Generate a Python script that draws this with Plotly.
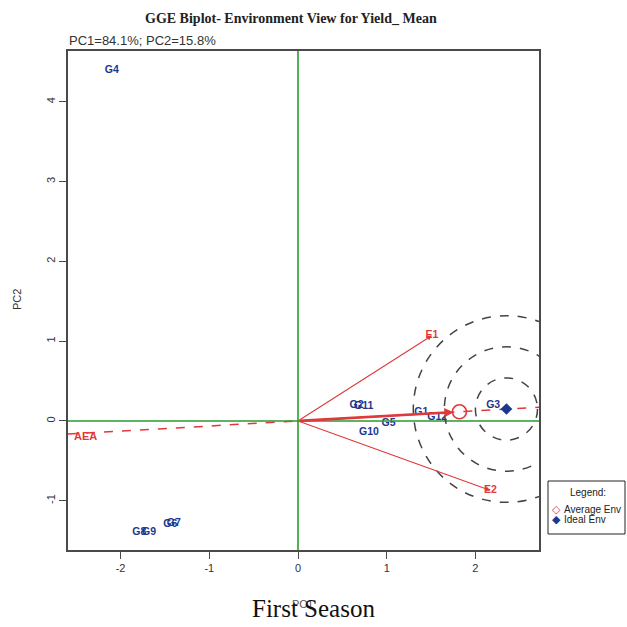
import plotly.graph_objects as go

# ---- data ----
genotypes = ["G1", "G2", "G3", "G4", "G5", "G6", "G7", "G8", "G9", "G10", "G11", "G12"]
geno_pc1 = [1.39, 0.66, 2.20, -2.10, 1.02, -1.44, -1.40, -1.79, -1.68, 0.80, 0.74, 1.57]
geno_pc2 = [0.11, 0.19, 0.20, 4.40, -0.03, -1.29, -1.28, -1.40, -1.40, -0.14, 0.18, 0.04]

environments = ["E1", "E2"]
env_pc1 = [1.51, 2.17]
env_pc2 = [1.07, -0.87]

avg_env = (1.82, 0.115)     # average environment
ideal_env = (2.35, 0.15)    # ideal environment
circle_rx = [0.35, 0.70, 1.05]   # concentric circle radii (PC1 units)
circle_ry = [0.39, 0.78, 1.17]   # (PC2 units)

x_range = [-2.593, 2.717]
y_range = [-1.617, 4.637]
x_ticks = [-2, -1, 0, 1, 2]
y_ticks = [-1, 0, 1, 2, 3, 4]

RED = "#e0393b"
NAVY = "#1c3790"
GREEN = "#2a9d2a"
FRAME = "#4a4a4a"

# helpers: pixel -> paper coordinates (plot area 68..539 x, 51..550 y)
def px(xp):
    return (xp - 68) / 471

def py(yp):
    return (550 - yp) / 499

fig = go.Figure()

# axis reference lines (green)
fig.add_shape(type="line", x0=0, x1=0, y0=y_range[0], y1=y_range[1], xref="x", yref="y",
              line=dict(color=GREEN, width=1.6))
fig.add_shape(type="line", x0=x_range[0], x1=x_range[1], y0=0, y1=0, xref="x", yref="y",
              line=dict(color=GREEN, width=1.6))

# concentric circles around ideal env
for rx, ry in zip(circle_rx, circle_ry):
    fig.add_shape(type="circle", xref="x", yref="y",
                  x0=ideal_env[0] - rx, x1=ideal_env[0] + rx,
                  y0=ideal_env[1] - ry, y1=ideal_env[1] + ry,
                  line=dict(color="#444444", width=1.5, dash="dash"))

# average environment axis (dashed through origin)
slope = avg_env[1] / avg_env[0]
fig.add_trace(go.Scatter(x=[x_range[0], x_range[1]],
                         y=[slope * x_range[0], slope * x_range[1]],
                         mode="lines", line=dict(color=RED, width=1.5, dash="dash"),
                         hoverinfo="skip", showlegend=False))

# environment vectors
for ex, ey in zip(env_pc1, env_pc2):
    fig.add_annotation(x=ex, y=ey, ax=0, ay=0, xref="x", yref="y", axref="x", ayref="y",
                       text="", showarrow=True, arrowhead=2, arrowsize=0.9,
                       arrowwidth=1.1, arrowcolor=RED)

# thick arrow to average environment
fig.add_annotation(x=avg_env[0], y=avg_env[1], ax=0, ay=0, xref="x", yref="y",
                   axref="x", ayref="y", text="", showarrow=True, arrowhead=2,
                   arrowsize=0.7, arrowwidth=2.6, arrowcolor=RED, standoff=6)

# environment labels
fig.add_trace(go.Scatter(x=env_pc1, y=env_pc2, mode="text",
                         text=["<b>%s</b>" % e for e in environments],
                         textfont=dict(family="Liberation Sans", size=10.5, color=RED),
                         hoverinfo="skip", showlegend=False))

# genotype labels
fig.add_trace(go.Scatter(x=geno_pc1, y=geno_pc2, mode="text",
                         text=["<b>%s</b>" % g for g in genotypes],
                         textfont=dict(family="Liberation Sans", size=10.5, color=NAVY),
                         hoverinfo="skip", showlegend=False))

# average env marker and ideal env marker
fig.add_trace(go.Scatter(x=[avg_env[0]], y=[avg_env[1]], mode="markers",
                         marker=dict(symbol="circle-open", size=14, color=RED,
                                     line=dict(width=1.6, color=RED)),
                         hoverinfo="skip", showlegend=False))
fig.add_trace(go.Scatter(x=[ideal_env[0]], y=[ideal_env[1]], mode="markers",
                         marker=dict(symbol="diamond", size=9, color=NAVY),
                         hoverinfo="skip", showlegend=False))

# AEA label
fig.add_annotation(x=-2.40, y=-0.19, xref="x", yref="y", text="<b>AEA</b>", showarrow=False,
                   font=dict(family="Liberation Sans", size=11, color=RED))

# ---- text around the plot ----
def note(x, y, text, font, **kw):
    fig.add_annotation(x=x, y=y, xref="paper", yref="paper", showarrow=False,
                       text=text, font=font, xanchor=kw.pop("xanchor", "center"),
                       yanchor="middle", **kw)

note(px(291), py(18), "<b>GGE Biplot- Environment View for Yield_ Mean</b>",
     dict(family="Liberation Serif", size=14, color="#222222"))
note(px(67), py(41), "PC1=84.1%; PC2=15.8%",
     dict(family="Liberation Sans", size=13, color="#333333"), xanchor="left")
note(px(17), py(300), "PC2", dict(family="Liberation Sans", size=11, color="#333333"),
     textangle=-90)
note(px(302), py(604), "PC1", dict(family="Liberation Sans", size=11, color="#555555"))
note(px(313), py(608), "First Season",
     dict(family="Liberation Serif", size=25, color="#111111"))

# ---- legend box (drawn manually) ----
fig.add_shape(type="rect", xref="paper", yref="paper",
              x0=px(548), x1=px(625), y0=py(534), y1=py(481),
              line=dict(color="#222222", width=1), fillcolor="white")
note(px(588), py(492), "Legend:",
     dict(family="Liberation Sans Narrow, Liberation Sans", size=10, color="#222222"))
note(px(556), py(509), "◇", dict(family="DejaVu Sans", size=11, color=RED))
note(px(556), py(519), "◆", dict(family="DejaVu Sans", size=11, color=NAVY))
note(px(562), py(509), "Average Env",
     dict(family="Liberation Sans Narrow, Liberation Sans", size=10, color="#222222"),
     xanchor="left")
note(px(562), py(519), "Ideal Env",
     dict(family="Liberation Sans Narrow, Liberation Sans", size=10, color="#222222"),
     xanchor="left")

fig.update_xaxes(range=x_range, tickvals=x_ticks, ticktext=[str(v) for v in x_ticks],
                 showgrid=False, zeroline=False, showline=True, mirror=True,
                 linecolor=FRAME, linewidth=1.6, ticks="outside", ticklen=7,
                 tickcolor=FRAME, tickwidth=1.3,
                 tickfont=dict(family="Liberation Sans", size=11, color="#333333"))
fig.update_yaxes(range=y_range, tickvals=y_ticks, ticktext=[str(v) for v in y_ticks],
                 showgrid=False, zeroline=False, showline=True, mirror=True,
                 linecolor=FRAME, linewidth=1.6, ticks="outside", ticklen=7,
                 tickcolor=FRAME, tickwidth=1.3, tickangle=-90,
                 tickfont=dict(family="Liberation Sans", size=11, color="#333333"))

fig.update_layout(width=627, height=627, autosize=False,
                  margin=dict(l=68, r=88, t=51, b=77, pad=0),
                  paper_bgcolor="white", plot_bgcolor="white", showlegend=False)

fig.write_html("out.html")
